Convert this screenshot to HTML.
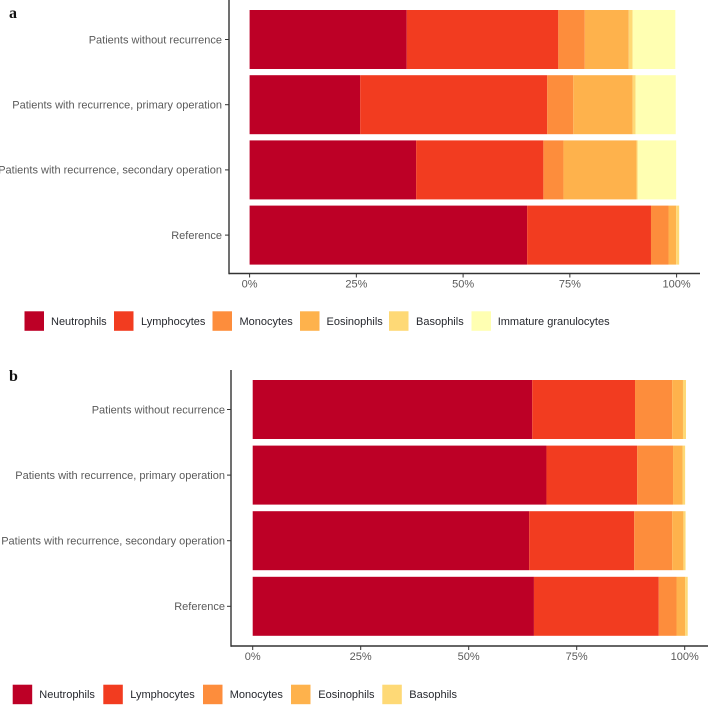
<!DOCTYPE html>
<html lang="en">
<head>
<meta charset="utf-8">
<title>Leukocyte composition by patient group</title>
<style>
  html, body { margin: 0; padding: 0; background: #fff; }
  #figure { display: block; width: 708px; height: 705px; font-family: "Liberation Sans", sans-serif; filter: blur(0.35px); }
  .ylab, .xlab { fill: #5a5a5a; font-size: 11px; }
  .leg { fill: #26282e; font-size: 11px; }
  .panel-tag { font-family: "Liberation Serif", serif; font-weight: bold; font-size: 16px; fill: #111; }
</style>
</head>
<body>
<svg id="figure" xmlns="http://www.w3.org/2000/svg" width="708" height="705" viewBox="0 0 708 705"></svg>
<script>
// Shared categories, series and ticks
const categories = ["Patients without recurrence", "Patients with recurrence, primary operation", "Patients with recurrence, secondary operation", "Reference"];
const seriesNames = ["Neutrophils", "Lymphocytes", "Monocytes", "Eosinophils", "Basophils", "Immature granulocytes"];
const seriesColors = ["#BD0026", "#F23C20", "#FD8D3C", "#FEB24C", "#FED976", "#FFFFB2"];
const tickValues = [0, 25, 50, 75, 100];
const tickLabels = ["0%", "25%", "50%", "75%", "100%"];

// Panel a: percent per category, one array per cell type
const aNeutrophils = [36.8, 25.9, 39.0, 65.0];
const aLymphocytes = [35.5, 43.8, 29.8, 29.0];
const aMonocytes = [6.2, 6.1, 4.7, 4.1];
const aEosinophils = [10.3, 13.9, 17.1, 1.8];
const aBasophils = [0.9, 0.7, 0.3, 0.7];
const aImmature = [10.0, 9.4, 9.0, 0];

// Panel b: percent per category, one array per cell type
const bNeutrophils = [64.7, 68.0, 64.0, 65.1];
const bLymphocytes = [23.8, 21.0, 24.3, 28.9];
const bMonocytes = [8.6, 8.3, 8.8, 4.1];
const bEosinophils = [2.5, 2.2, 2.6, 2.0];
const bBasophils = [0.7, 0.6, 0.5, 0.6];

const svg = document.getElementById('figure');
const NS = 'http://www.w3.org/2000/svg';

function make(tag, attrs, parent) {
  const el = document.createElementNS(NS, tag);
  for (const k in attrs) el.setAttribute(k, attrs[k]);
  parent.appendChild(el);
  return el;
}
function slug(s) {
  return s.toLowerCase().replace(/[^a-z0-9]+/g, '-').replace(/^-|-$/g, '');
}

function drawPanel(p) {
  const g = make('g', {}, svg);
  
  

  const xScale = v => p.x0 + (p.x100 - p.x0) * v / 100;
  const yBand = i => p.barTop + i * p.step;

  const tag = make('text', { x: p.tagX, y: p.tagY, class: 'panel-tag' }, g);
  tag.textContent = p.tag;
  
  

  // Stacked bars
  categories.forEach((cat, i) => {
    let cum = 0;
    p.series.forEach((vals, s) => {
      const v = vals[i];
      if (v > 0) {
        const r = make('rect', {
          x: xScale(cum), y: yBand(i),
          width: xScale(cum + v) - xScale(cum), height: p.barH,
          fill: seriesColors[s]
        }, g);
        
        
      }
      cum += v;
    });

    const cy = yBand(i) + p.barH / 2;
    const tick = make('line', { x1: p.axisX - 4, x2: p.axisX, y1: cy, y2: cy, stroke: '#333', 'stroke-width': 1 }, g);
    
    

    const lab = make('text', { x: p.labelEnd, y: cy + 3.8, 'text-anchor': 'end', class: 'ylab' }, g);
    lab.textContent = cat;
    
    
  });

  // Axes
  const yAxis = make('line', { x1: p.axisX, x2: p.axisX, y1: p.axisTop, y2: p.axisY + 0.7, stroke: '#333', 'stroke-width': 1.4 }, g);
  
  

  const xAxis = make('line', { x1: p.axisX, x2: p.axisRight, y1: p.axisY, y2: p.axisY, stroke: '#333', 'stroke-width': 1.4 }, g);
  
  

  tickValues.forEach((t, i) => {
    const x = xScale(t);
    const tk = make('line', { x1: x, x2: x, y1: p.axisY, y2: p.axisY + 4, stroke: '#333', 'stroke-width': 1 }, g);
    
    

    const tl = make('text', { x: x, y: p.axisY + 14, 'text-anchor': 'middle', class: 'xlab' }, g);
    tl.textContent = tickLabels[i];
    
    
  });

  // Legend
  p.legendSwatchX.forEach((sx, i) => {
    const sw = make('rect', { x: sx, y: p.legendY, width: 19.5, height: 19.5, fill: seriesColors[i] }, g);
    
    

    const lt = make('text', { x: p.legendTextX[i], y: p.legendY + 13.5, class: 'leg' }, g);
    lt.textContent = seriesNames[i];
    
    
  });
}

drawPanel({
  tag: 'a', tagX: 9, tagY: 18, labelEnd: 222,
  series: [aNeutrophils, aLymphocytes, aMonocytes, aEosinophils, aBasophils, aImmature],
  x0: 249.6, x100: 676.6, barTop: 10, step: 65.2, barH: 59,
  axisX: 229, axisTop: 0, axisY: 273.5, axisRight: 700,
  legendY: 311.3,
  legendSwatchX: [24.5, 114, 212.5, 300, 389, 471.5],
  legendTextX: [51, 141, 239.5, 326.5, 416, 497.7]
});

drawPanel({
  tag: 'b', tagX: 9, tagY: 381, labelEnd: 225,
  series: [bNeutrophils, bLymphocytes, bMonocytes, bEosinophils, bBasophils],
  x0: 252.7, x100: 684.7, barTop: 380, step: 65.6, barH: 59,
  axisX: 231, axisTop: 370, axisY: 646, axisRight: 708,
  legendY: 684.7,
  legendSwatchX: [12.7, 103.3, 203, 291, 382.3],
  legendTextX: [39.3, 130.3, 229.7, 318.3, 409.3]
});
</script>
</body>
</html>
